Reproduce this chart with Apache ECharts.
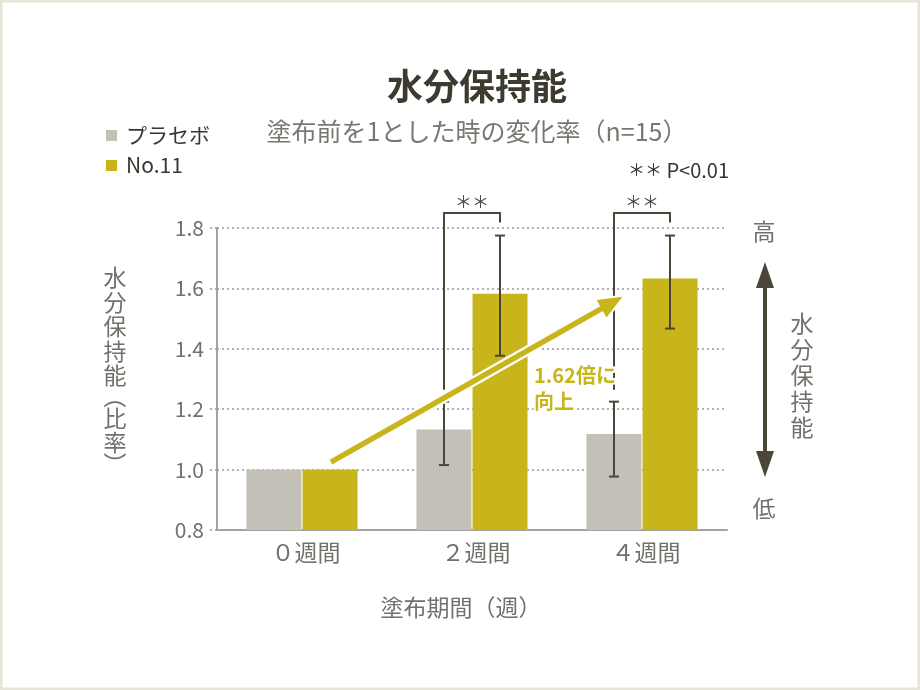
<!DOCTYPE html>
<html><head><meta charset="utf-8">
<script src="https://cdn.jsdelivr.net/npm/echarts@6/dist/echarts.min.js"></script>
<style>html,body{margin:0;padding:0;background:#fff}#c{width:920px;height:690px}</style>
</head><body><div id="c"></div>
<script>
// ---- data ----
const categories = ['0週間', '2週間', '4週間'];
const seriesNames = ['プラセボ', 'No.11'];
const placebo = [1.0, 1.133, 1.118];
const no11 = [1.0, 1.582, 1.633];
const placeboErrLow = [null, 1.015, 0.977];
const placeboErrHigh = [null, 1.225, 1.225];
const no11ErrLow = [null, 1.377, 1.467];
const no11ErrHigh = [null, 1.775, 1.775];
const yMin = 0.8, yMax = 1.8, yStep = 0.2;
const sigCategories = [1, 2];
const sigMark = '＊＊';
const arrowFrom = [0.17, 1.025];
const arrowTo = [1.885, 1.572];
const arrowNote = ['1.62倍に', '向上'];

// ---- style ----
const FONT = '"Noto Sans CJK JP","Noto Sans",sans-serif';
const C_PLACEBO = '#c3c0b8';
const C_NO11 = '#c8b41b';
const C_DARK = '#4a4638';
const C_GRAY = '#6f716a';
const BAR_W = 55;
const BAR_OFF = 28;

const toFullDigits = s => s.replace(/[0-9]/g, d => String.fromCharCode(d.charCodeAt(0) + 0xFEE0));

const errData = [];
categories.forEach((c, i) => {
  if (placeboErrLow[i] != null) errData.push([i, placeboErrLow[i], placeboErrHigh[i], -1]);
  if (no11ErrLow[i] != null) errData.push([i, no11ErrLow[i], no11ErrHigh[i], 1]);
});
const sigData = sigCategories.map(i => [i, placeboErrHigh[i], no11ErrHigh[i]]);

// vertical text helper (one text element per character)
function verticalText(chars, cx, cy, size, color) {
  const total = chars.reduce((s, c) => s + c[1], 0);
  let y = cy - total / 2;
  const children = [];
  chars.forEach(([ch, step, rot]) => {
    children.push({type: 'text', x: cx, y: y + step / 2, rotation: rot ? -Math.PI / 2 : 0,
      style: {text: ch, fontSize: size, fill: color, align: 'center', verticalAlign: 'middle', fontFamily: FONT}});
    y += step;
  });
  return {type: 'group', children, silent: true};
}

const chart = echarts.init(document.getElementById('c'), null, {renderer: 'canvas'});

chart.setOption({
  animation: false,
  textStyle: {fontFamily: FONT},
  title: [
    {text: '水分保持能', left: 477, top: 68, textAlign: 'center', padding: 0,
     textStyle: {fontSize: 36, fontWeight: 'bold', color: '#3d3a2f', fontFamily: FONT}},
    {text: '塗布前を1とした時の変化率（n=15）', left: 477, top: 119, textAlign: 'center', padding: 0,
     textStyle: {fontSize: 25, fontWeight: 'normal', color: '#777971', fontFamily: FONT}}
  ],
  legend: {
    data: seriesNames, orient: 'vertical', left: 106, top: 125, padding: 0, itemWidth: 11, itemHeight: 11,
    itemGap: 9, icon: 'rect', selectedMode: false,
    textStyle: {fontSize: 21, color: '#38372f', fontFamily: FONT, padding: [0, 0, 0, 4]}
  },
  grid: {left: 217, right: 193, top: 228, bottom: 160, containLabel: false},
  xAxis: [
    {type: 'category', data: categories,
     axisLine: {lineStyle: {color: '#a3a3a0', width: 2}},
     axisTick: {show: false},
     axisLabel: {fontSize: 23, color: C_GRAY, margin: 11, fontFamily: FONT, padding: [0, 0, 0, 8],
                 formatter: toFullDigits}},
    {type: 'value', min: -0.5, max: 2.5, show: false}
  ],
  yAxis: {
    type: 'value', min: yMin, max: yMax, interval: yStep,
    axisLine: {show: true, onZero: false, lineStyle: {color: '#a3a3a0', width: 2}},
    axisTick: {show: true, length: 9, lineStyle: {color: '#9a9a9a', width: 1.5, type: [2, 3]}},
    splitLine: {show: true, lineStyle: {color: '#9a9a9a', width: 1.5, type: [2, 3]}},
    axisLabel: {fontSize: 21, color: C_GRAY, margin: 13, fontFamily: FONT,
                formatter: v => v.toFixed(1)}
  },
  series: [
    {name: seriesNames[0], type: 'bar', data: placebo, barWidth: BAR_W, barGap: '2%',
     itemStyle: {color: C_PLACEBO}, z: 2},
    {name: seriesNames[1], type: 'bar', data: no11, barWidth: BAR_W, barGap: '2%',
     itemStyle: {color: C_NO11}, z: 2},
    {type: 'custom', xAxisIndex: 0, data: errData, z: 5, silent: true,
     renderItem: (params, api) => {
       const i = api.value(0), side = api.value(3);
       const lo = api.coord([i, api.value(1)]);
       const hi = api.coord([i, api.value(2)]);
       const x = lo[0] + side * BAR_OFF;
       const st = {stroke: C_DARK, lineWidth: 2};
       return {type: 'group', children: [
         {type: 'line', shape: {x1: x, y1: lo[1], x2: x, y2: hi[1]}, style: st},
         {type: 'line', shape: {x1: x - 5, y1: lo[1], x2: x + 5, y2: lo[1]}, style: st},
         {type: 'line', shape: {x1: x - 5, y1: hi[1], x2: x + 5, y2: hi[1]}, style: st}
       ]};
     }},
    {type: 'custom', xAxisIndex: 0, data: sigData, z: 5, silent: true,
     renderItem: (params, api) => {
       const i = api.value(0);
       const p = api.coord([i, api.value(1)]);
       const n = api.coord([i, api.value(2)]);
       const topY = api.coord([i, yMax])[1] - 15;
       const xl = p[0] - BAR_OFF, xr = p[0] + BAR_OFF;
       const st = {stroke: C_DARK, lineWidth: 2, fill: null};
       return {type: 'group', children: [
         {type: 'polyline', shape: {points: [[xl, p[1] - 12], [xl, topY], [xr, topY], [xr, n[1] - 13]]}, style: st},
         {type: 'text', x: p[0], y: topY - 11,
          style: {text: sigMark, fontSize: 17, fill: '#4f4c44', align: 'center', verticalAlign: 'middle', fontFamily: FONT}}
       ]};
     }},
    {type: 'custom', xAxisIndex: 1, data: [[arrowFrom[0], arrowFrom[1], arrowTo[0], arrowTo[1]]], z: 8, silent: true,
     renderItem: (params, api) => {
       const a = api.coord([api.value(0), api.value(1)]);
       const b = api.coord([api.value(2), api.value(3)]);
       const dx = b[0] - a[0], dy = b[1] - a[1];
       const L = Math.sqrt(dx * dx + dy * dy);
       const ux = dx / L, uy = dy / L, px = -uy, py = ux;
       const HL = 24, HW = 10;
       const bx = b[0] - ux * HL, by = b[1] - uy * HL;
       const head = [[b[0], b[1]], [bx + px * HW, by + py * HW], [bx - px * HW, by - py * HW]];
       return {type: 'group', children: [
         {type: 'line', shape: {x1: a[0], y1: a[1], x2: bx + ux * 2, y2: by + uy * 2}, style: {stroke: '#fff', lineWidth: 10}},
         {type: 'polygon', shape: {points: head}, style: {fill: '#fff', stroke: '#fff', lineWidth: 4}},
         {type: 'line', shape: {x1: a[0], y1: a[1], x2: bx + ux * 2, y2: by + uy * 2}, style: {stroke: C_NO11, lineWidth: 5.5}},
         {type: 'polygon', shape: {points: head}, style: {fill: C_NO11}}
       ]};
     }}
  ],
  graphic: [
    {type: 'rect', shape: {x: 1, y: 1, width: 918, height: 688}, style: {fill: null, stroke: '#e6e4d9', lineWidth: 3}, silent: true},
    {type: 'text', x: 729, y: 170,
     style: {text: '{a|＊＊} P<0.01', fontSize: 20, fill: '#38372f', align: 'right', verticalAlign: 'middle', fontFamily: FONT,
             rich: {a: {fontSize: 17, fill: '#38372f', fontFamily: FONT}}}},
    {type: 'text', x: 534, y: 375, z: 100, style: {text: arrowNote[0], fontSize: 20, fontWeight: 'bold', fill: C_NO11, align: 'left', verticalAlign: 'middle', fontFamily: FONT, stroke: '#fff', lineWidth: 4}},
    {type: 'text', x: 534, y: 401, z: 100, style: {text: arrowNote[1], fontSize: 20, fontWeight: 'bold', fill: C_NO11, align: 'left', verticalAlign: 'middle', fontFamily: FONT, stroke: '#fff', lineWidth: 4}},
    verticalText([['水', 24.5], ['分', 24.5], ['保', 24.5], ['持', 24.5], ['能', 24.5], ['（', 18, true], ['比', 24.5], ['率', 24.5], ['）', 18, true]], 115, 369, 23, C_GRAY),
    {type: 'text', x: 461, y: 607, style: {text: '塗布期間（週）', fontSize: 23, fill: C_GRAY, align: 'center', verticalAlign: 'middle', fontFamily: FONT}},
    {type: 'text', x: 764, y: 231, style: {text: '高', fontSize: 23, fill: C_GRAY, align: 'center', verticalAlign: 'middle', fontFamily: FONT}},
    {type: 'text', x: 764, y: 508, style: {text: '低', fontSize: 23, fill: C_GRAY, align: 'center', verticalAlign: 'middle', fontFamily: FONT}},
    verticalText([['水', 26], ['分', 26], ['保', 26], ['持', 26], ['能', 26]], 802, 375, 23, C_GRAY),
    {type: 'line', shape: {x1: 765, y1: 284, x2: 765, y2: 454}, style: {stroke: C_DARK, lineWidth: 4}},
    {type: 'polygon', shape: {points: [[765, 262], [756, 288], [774, 288]]}, style: {fill: C_DARK}},
    {type: 'polygon', shape: {points: [[765, 477], [756, 451], [774, 451]]}, style: {fill: C_DARK}}
  ]
});
</script></body></html>
